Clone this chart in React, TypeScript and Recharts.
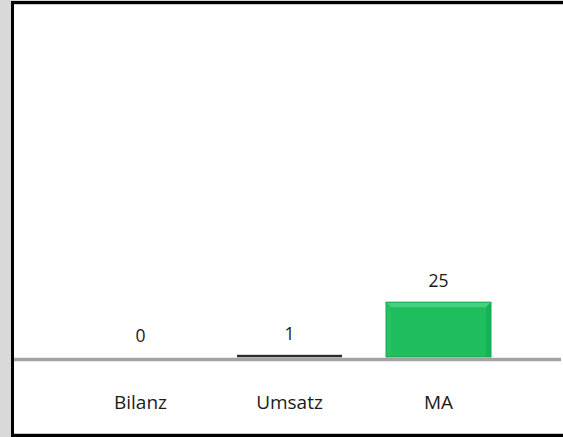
import React from 'react';
import { BarChart, Bar, XAxis, YAxis, LabelList, ReferenceLine } from 'recharts';

const categories = ['Bilanz', 'Umsatz', 'MA'];
const values = [0, 1, 25];
const barColors = ['#1dbd5c', '#2b2b2b', '#1dbd5c'];

const data = categories.map((name, i) => ({ name, value: values[i], color: barColors[i] }));

const FONT = '"Open Sans", "DejaVu Sans", sans-serif';

const BevelBar = (props: any) => {
  const { x, y, width, height, payload } = props;
  if (!height || height <= 0) return null;
  if (payload.color !== '#1dbd5c') {
    return <rect x={x} y={y} width={width} height={Math.max(height, 2.5)} fill={payload.color} />;
  }
  const b = Math.min(5, height / 3);
  return (
    <g>
      <rect x={x} y={y} width={width} height={height} fill="#1ebd5d" />
      <polygon points={`${x},${y} ${x + width},${y} ${x + width - b},${y + b} ${x + b},${y + b}`} fill="#45d17f" />
      <polygon points={`${x},${y} ${x + b},${y + b} ${x + b},${y + height} ${x},${y + height}`} fill="#26c262" />
      <polygon points={`${x + width},${y} ${x + width - b},${y + b} ${x + width - b},${y + height} ${x + width},${y + height}`} fill="#17b254" />
      <rect x={x} y={y} width={width} height={height} fill="none" stroke="#14a84f" strokeWidth={1} />
    </g>
  );
};

const Tick = (props: any) => {
  const { x, y, payload } = props;
  return (
    <text x={x} y={y + 50} textAnchor="middle" fontFamily={FONT} fontSize={19} fill="#1a1a1a">
      {payload.value}
    </text>
  );
};

const ValueLabel = (props: any) => {
  const { x, y, width, value } = props;
  return (
    <text x={x + width / 2} y={y - 15} textAnchor="middle" fontFamily={FONT} fontSize={17.5} fill="#1a1a1a">
      {value}
    </text>
  );
};

const BaseLine = (props: any) => (
  <line x1={props.x1} y1={props.y1 + 2.5} x2={props.x2} y2={props.y2 + 2.5} stroke="#a3a3a3" strokeWidth={3.5} />
);

export default function App() {
  return (
    <div style={{ position: 'absolute', left: 0, top: 0, width: 563, height: 437, background: '#d9d9d9', overflow: 'hidden' }}>
      <div
        style={{
          position: 'absolute',
          left: 11,
          top: 1,
          width: 560,
          height: 430,
          background: '#ffffff',
          borderLeft: '3px solid #000',
          borderTop: '3px solid #000',
          borderBottom: '3px solid #000',
          boxShadow: 'inset 0 1px 0 #c8c8c8, inset 0 -1px 0 #c8c8c8',
        }}
      >
        <BarChart
          width={547}
          height={430}
          data={data}
          margin={{ top: 24, right: 0, left: 0, bottom: 0 }}
        >
          <XAxis
            dataKey="name"
            height={77}
            axisLine={false}
            tickLine={false}
            tickSize={0}
            padding={{ left: 52, right: 48 }}
            tick={<Tick />}
            interval={0}
          />
          <YAxis hide domain={[0, 150]} />
          <ReferenceLine y={0} shape={<BaseLine />} ifOverflow="visible" />
          <Bar dataKey="value" barSize={105} shape={<BevelBar />} isAnimationActive={false}>
            <LabelList dataKey="value" content={<ValueLabel />} />
          </Bar>
        </BarChart>
      </div>
    </div>
  );
}
